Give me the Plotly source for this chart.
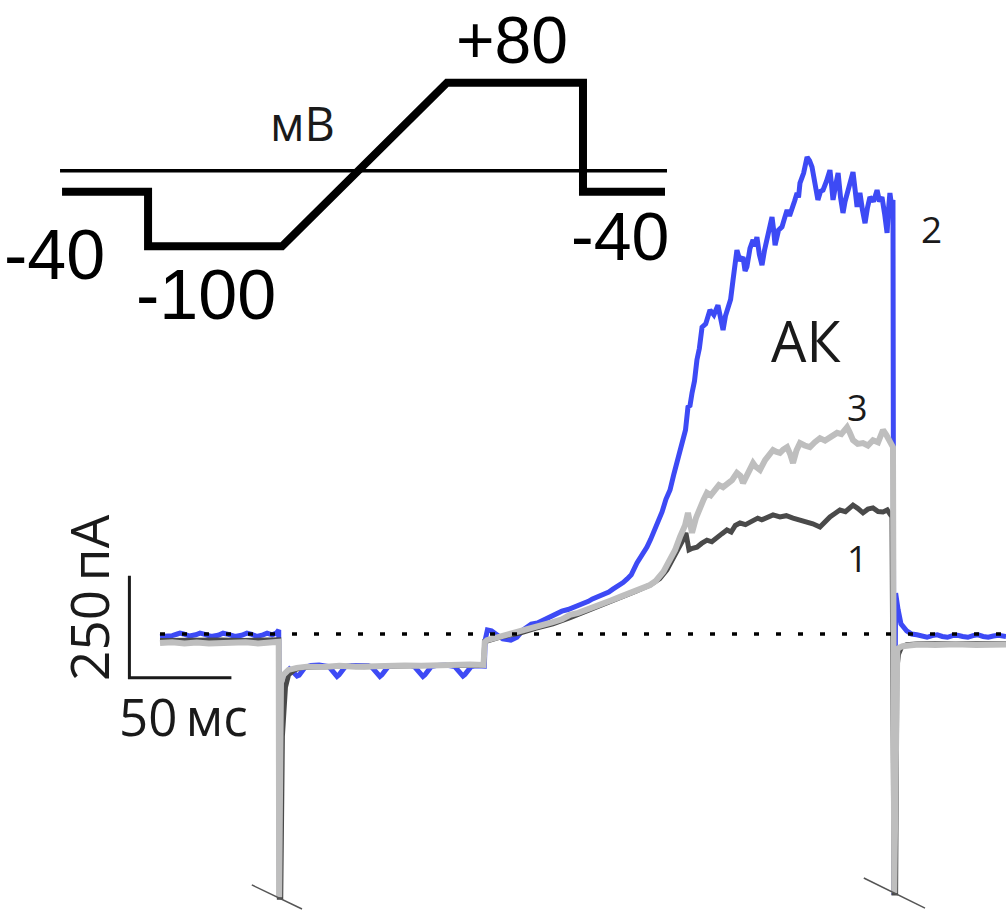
import plotly.graph_objects as go

# ---------------- current traces (time, ms; current, pA) ----------------
# trace 2 (blue)
T_BLUE = [0, 3, 6, 8.5, 9.8, 11.5, 14.5, 17.5, 19.6, 22, 25, 28.5, 30.9, 33.5, 36.8, 40,
          42.6, 45, 47.5, 50.5, 52.5, 55, 57, 58.2,
          58.6, 59.6,
          60.3, 62, 63.5, 65, 66.3, 67.2, 68.2, 69.5, 71, 74,
          78, 82.8, 84.3, 85.8, 86.8, 87.8, 89.3, 90.8, 94, 98,
          102, 103.8, 105.3, 106.8, 107.8, 108.8, 110.3, 111.8, 115, 119,
          123, 124.9, 126.4, 127.9, 128.9, 129.9, 131.4, 132.9, 136, 140,
          144.5, 146, 147.5, 148.5, 149.5, 151, 152.5, 155, 157.8, 159.0,
          159.4, 160.5, 162.5, 165, 168, 172, 175, 178, 182, 185, 187, 190, 192, 195, 197, 200,
          202, 205, 207, 210, 212, 215, 217, 220, 222, 225, 227, 229, 231, 233.8, 236, 238.7,
          240.5, 242.6, 244.5, 246.1, 248, 250.0, 251.8, 253.4, 255, 256.4, 257.6, 258.8,
          259.8, 260.8, 262.0, 263.2, 264.4, 265.7, 267.5, 269.6, 271.5, 273.5, 274.8, 276.0,
          277.2, 278.4, 279.7, 280.9, 281.8, 282.8, 284.3, 285.8, 286.8, 287.7, 289.2, 290.7,
          291.6, 292.6, 293.8, 295.1, 296.3, 297.5, 298.8, 300.0, 300.8, 301.5, 303.2, 304.9,
          306.2, 307.4, 308.6, 309.8, 311.0, 312.3, 313.0, 313.7, 315.5, 317.2, 318.4, 319.6,
          321.0, 322.5, 323.8, 325.0, 326.7, 328.4, 329.2, 329.9, 331.2, 332.4, 333.6, 334.8,
          335.8, 336.8, 338.2, 339.7, 340.7, 341.7, 342.4, 343.1, 344.3, 345.6, 346.8, 348.0,
          349.8, 351.5, 352.7, 353.9, 355.2, 356.4, 357.1, 357.8, 358.6, 359.3,
          359.8, 360.6, 361.8, 363.2, 366, 368.5, 371, 373.5, 376, 378.5, 381, 383.5, 386,
          388.5, 391, 393.5, 396, 398.5, 401, 403.5, 406, 408.5, 411, 414.7]
I_BLUE = [-6, -6, -4, 0, 2, 0, -5, -2, 2, -1, -6, -3, 2, -1, -6, -3,
          2, -1, -6, -2, 2, -2, 2, 10,
          -640, -110,
          -105, -95, -86, -92, -100, -103, -101, -92, -82, -77,
          -76, -80, -90, -100, -104, -100, -90, -80, -77, -76,
          -77, -81, -91, -101, -104, -100, -90, -80, -77, -76,
          -77, -81, -91, -101, -104, -100, -90, -80, -77, -76,
          -80, -90, -100, -103, -99, -89, -80, -78, -79, -79,
          -15, 10, 8, -2, -12, -15, -8, 10, 24, 27, 32, 40, 44, 50, 56, 60,
          64, 70, 72, 80, 86, 92, 98, 103, 110, 118, 126, 135, 145, 174, 190, 213,
          232, 255, 280, 299, 330, 353, 390, 422, 445, 475, 500, 556,
          560, 591, 620, 672, 700, 752, 760, 794, 782, 806, 770, 745,
          780, 801, 820, 868, 900, 941, 915, 924, 890, 900, 945, 966,
          950, 973, 930, 904, 940, 966, 985, 1022, 990, 953, 990, 998,
          1020, 1039, 1025, 1047, 1060, 1081, 1070, 1105, 1130, 1169, 1160, 1145,
          1100, 1064, 1085, 1088, 1110, 1137, 1100, 1064, 1100, 1130, 1070, 1032,
          1060, 1081, 1110, 1132, 1090, 1047, 1070, 1081, 1040, 1007, 1045, 1071,
          1060, 1088, 1060, 1071, 1030, 983, 1040, 1081, 1050, 1064,
          -640, 100, 60, 25, 8, 0, -2, -6, -8, -4, -2, -6, -8,
          -4, -3, -6, -8, -4, -2, -6, -8, -5, -3, -6]

# trace 1 (dark grey)
T_DARK = [0, 10, 20, 30, 40, 50, 58.2,
          58.5, 59.2, 60.0, 60.8, 61.5, 63, 66, 70, 80, 90, 100, 110, 120, 130, 140, 150, 158.6,
          159.2, 160.3, 168, 176.5, 184, 192.6, 201, 209.3, 217, 225.5, 233, 240.2, 245, 248.5,
          251.5, 254.9, 256.5, 257.8, 259.3, 261, 263.2, 265.5, 268.1, 270.5, 273.0, 275.5,
          277.9, 280, 282, 284.3, 287, 290.7, 293, 295, 297.5, 300.5, 303.9, 307, 310.3, 313.5,
          317.2, 320, 323.5, 326, 328.4, 331, 333.3, 336, 339.7, 342, 344.6, 347, 349.5, 352,
          354.4, 356.5, 358.8,
          359.8, 360.6, 361.2, 362, 363.5, 366, 372, 390, 414.7]
I_DARK = [-16, -15, -17, -15, -16, -15, -14,
          -645, -645, -250, -180, -130, -100, -88, -82, -80, -79, -80, -78, -78, -77, -77, -76, -77,
          -18, -17, -6, 2, 14, 25, 40, 56, 70, 88, 104, 120, 136, 157,
          185, 213, 232, 248, 206, 210, 213, 222, 230, 226, 238, 246,
          255, 250, 266, 272, 268, 279, 284, 280, 287, 292, 287, 290, 284, 280,
          275, 270, 262, 276, 287, 296, 304, 300, 316, 308, 297, 306, 309, 300,
          299, 304, 287,
          -635, -635, -85, -50, -32, -26, -24, -25, -24]

# trace 3 (light grey)
T_GREY = [0, 6, 12, 18, 24, 30, 36, 42, 48, 54, 58.2,
          58.4, 59.3, 60.5, 63, 67, 72, 80, 88, 96, 104, 112, 120, 128, 136, 144, 152, 158.6,
          159.2, 160.3, 164, 168.1, 172, 176.5, 180, 184.8, 188, 192.6, 197, 201.0, 205, 209.3,
          213, 217.2, 221, 225.5, 229, 233.8, 237, 240.2, 243, 245.1, 246.8, 248.5, 250.5,
          252.5, 254.9, 257.4, 258.8, 260.8, 262.7, 264.7, 266.5, 268.1, 270, 272.1, 274,
          276.0, 278, 280.4, 282.8, 284.5, 285.8, 288, 290.7, 292, 294.1, 296.6, 298.5, 300.5,
          302, 303.9, 305.5, 307.4, 309, 310.3, 312, 313.7, 316, 318.6, 321, 323.5, 326, 328.4,
          330, 331.9, 334, 336.8, 338, 339.7, 342, 344.6, 347, 349.5, 352, 354.4, 356, 357.8,
          359.3,
          359.9, 360.9, 361.4, 362.5, 364, 367, 372, 380, 390, 400, 408, 414.7]
I_GREY = [-22, -20, -23, -21, -23, -21, -22, -20, -23, -21, -19,
          -645, -120, -100, -88, -83, -80, -81, -78, -80, -78, -79, -77, -78, -76, -77, -75, -76,
          -20, -15, -10, -7, 0, 5, 10, 17, 22, 29, 36, 47, 52, 61,
          66, 74, 82, 91, 98, 108, 113, 120, 130, 140, 153, 169, 188,
          206, 238, 267, 297, 248, 284, 311, 330, 346, 340, 353, 365,
          360, 368, 377, 395, 388, 370, 392, 419, 410, 402, 426, 440, 451,
          447, 444, 452, 458, 440, 419, 450, 468, 462, 458, 470, 480, 474, 483,
          488, 493, 490, 507, 495, 475, 466, 468, 462, 475, 470, 500, 488, 475,
          458,
          -635, -40, -38, -33, -30, -28, -26, -27, -25, -27, -25, -26]

# zero-current reference (dotted)
T_ZERO = [0, 414.7]
I_ZERO = [0, 0]

# scale bar
SCALEBAR_T0 = -15     # ms
SCALEBAR_I0 = -107    # pA
SCALE_MS = 50
SCALE_PA = 250

# break marks on the clipped capacitive transients
CUT_T = [[45, 69.6], [345, 375]]
CUT_I = [[-615, -674], [-598, -672]]

# trace labels: (text, t, I, size)
TRACE_LABELS = [("2", 378.4, 995, 37), ("АК", 316.7, 721, 56),
                ("3", 341.7, 554, 36), ("1", 341.7, 186, 36)]

# ---------------- voltage protocol inset (time, ms; mV) ----------------
INSET_T = [0, 64.2, 64.2, 164.2, 287.3, 388.8, 388.8, 450]
INSET_MV = [-40, -40, -100, -100, 80, 80, -40, -40]
INSET_REF_T = [-1.5, 451.5]
INSET_REF_MV = [-17, -17]
# protocol labels: (text, t, mV, size)
INSET_LABELS = [("-40", -6, -109.7, 70), ("-100", 107.5, -153.7, 70),
                ("+80", 335.8, 127, 66), ("-40", 416.4, -88.8, 68)]
INSET_UNIT = ("мВ", 179.1, 35.6)

BLUE = "#3d4af5"
DARK = "#4a4a4a"
GREY = "#bebebe"
NUMS = "Liberation Sans, Arial, sans-serif"
SANS = "Open Sans, Noto Sans, sans-serif"

fig = go.Figure()

# current traces
fig.add_trace(go.Scatter(x=T_BLUE, y=I_BLUE, mode="lines",
                         line=dict(color=BLUE, width=5)))
fig.add_trace(go.Scatter(x=T_DARK, y=I_DARK, mode="lines",
                         line=dict(color=DARK, width=5)))
fig.add_trace(go.Scatter(x=T_GREY, y=I_GREY, mode="lines",
                         line=dict(color=GREY, width=6)))

# dotted zero line on top
fig.add_trace(go.Scatter(x=T_ZERO, y=I_ZERO, mode="lines",
                         line=dict(color="black", width=3.5, dash="5px,17px")))

# scale bar
fig.add_trace(go.Scatter(
    x=[SCALEBAR_T0, SCALEBAR_T0, SCALEBAR_T0 + SCALE_MS],
    y=[SCALEBAR_I0 + SCALE_PA, SCALEBAR_I0, SCALEBAR_I0],
    mode="lines", line=dict(color="#1a1a1a", width=3)))

# break marks
for ct, ci in zip(CUT_T, CUT_I):
    fig.add_trace(go.Scatter(x=ct, y=ci, mode="lines",
                             line=dict(color="#555555", width=1.5)))

# inset: reference line and protocol
fig.add_trace(go.Scatter(x=INSET_REF_T, y=INSET_REF_MV, mode="lines",
                         xaxis="x2", yaxis="y2",
                         line=dict(color="black", width=3.5)))
fig.add_trace(go.Scatter(x=INSET_T, y=INSET_MV, mode="lines",
                         xaxis="x2", yaxis="y2",
                         line=dict(color="black", width=8)))

annotations = []
for text, t, i, size in TRACE_LABELS:
    annotations.append(dict(x=t, y=i, xref="x", yref="y", text=text, showarrow=False,
                            font=dict(family=SANS, size=size, color="#1a1a1a"),
                            xanchor="center", yanchor="middle"))
annotations.append(dict(x=SCALEBAR_T0 + SCALE_MS / 2 + 1.5, y=SCALEBAR_I0 - 95, xref="x", yref="y",
                        text=f"{SCALE_MS}\u2009мс", showarrow=False,
                        font=dict(family=SANS, size=51, color="#1a1a1a"),
                        xanchor="center", yanchor="middle"))
annotations.append(dict(x=SCALEBAR_T0 - 20, y=SCALEBAR_I0 + SCALE_PA / 2 + 72, xref="x", yref="y",
                        text=f"{SCALE_PA}\u2009пА", showarrow=False, textangle=-90,
                        font=dict(family=SANS, size=53, color="#1a1a1a"),
                        xanchor="center", yanchor="middle"))
for text, t, v, size in INSET_LABELS:
    annotations.append(dict(x=t, y=v, xref="x2", yref="y2", text=text, showarrow=False,
                            font=dict(family=NUMS, size=size, color="black"),
                            xanchor="center", yanchor="middle"))
annotations.append(dict(x=INSET_UNIT[1], y=INSET_UNIT[2], xref="x2", yref="y2",
                        text=INSET_UNIT[0], showarrow=False,
                        font=dict(family=SANS, size=47, color="#1a1a1a"),
                        xanchor="center", yanchor="middle"))

axis_off = dict(visible=False, showgrid=False, zeroline=False, fixedrange=True)
fig.update_layout(
    width=1006, height=910,
    margin=dict(l=0, r=0, t=0, b=0),
    paper_bgcolor="white", plot_bgcolor="white",
    showlegend=False, hovermode=False,
    xaxis=dict(range=[-78.43, 414.7], domain=[0, 1], **axis_off),
    yaxis=dict(range=[-676.5, 1554], domain=[0, 1], **axis_off),
    xaxis2=dict(range=[-46.3, 704.5], domain=[0, 1], anchor="y2", overlaying="x", **axis_off),
    yaxis2=dict(range=[-830.2, 170.9], domain=[0, 1], anchor="x2", overlaying="y", **axis_off),
    annotations=annotations,
)

fig.write_html("out.html")
